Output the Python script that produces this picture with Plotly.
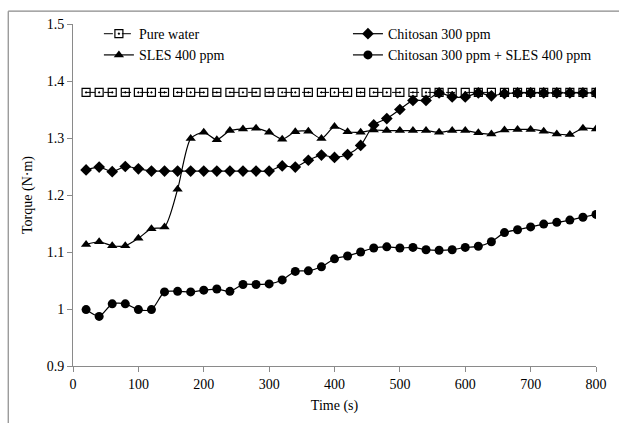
import plotly.graph_objects as go

time_s = [20, 40, 60, 80, 100, 120, 140, 160, 180, 200, 220, 240, 260, 280, 300, 320, 340, 360, 380, 400,
          420, 440, 460, 480, 500, 520, 540, 560, 580, 600, 620, 640, 660, 680, 700, 720, 740, 760, 780, 800]

pure_water = [1.38] * 40

chitosan_300 = [1.244, 1.249, 1.241, 1.250, 1.246, 1.242, 1.242, 1.242, 1.242, 1.242,
                1.242, 1.242, 1.242, 1.242, 1.242, 1.251, 1.249, 1.261, 1.270, 1.266,
                1.271, 1.287, 1.323, 1.334, 1.350, 1.366, 1.366, 1.379, 1.372, 1.372,
                1.379, 1.374, 1.378, 1.379, 1.379, 1.379, 1.379, 1.379, 1.379, 1.379]

sles_400 = [1.113, 1.118, 1.111, 1.111, 1.124, 1.141, 1.144, 1.210, 1.299, 1.310,
            1.297, 1.313, 1.316, 1.317, 1.310, 1.298, 1.311, 1.312, 1.299, 1.320,
            1.311, 1.310, 1.314, 1.313, 1.313, 1.313, 1.313, 1.310, 1.313, 1.313,
            1.309, 1.307, 1.314, 1.315, 1.315, 1.312, 1.307, 1.306, 1.317, 1.316]

chitosan_sles = [0.999, 0.987, 1.009, 1.009, 0.999, 0.999, 1.030, 1.031, 1.030, 1.033,
                 1.035, 1.031, 1.043, 1.043, 1.044, 1.051, 1.066, 1.067, 1.074, 1.088,
                 1.093, 1.100, 1.107, 1.109, 1.107, 1.108, 1.104, 1.103, 1.104, 1.108,
                 1.110, 1.118, 1.134, 1.139, 1.144, 1.149, 1.152, 1.156, 1.161, 1.166]

x_ticks = [0, 100, 200, 300, 400, 500, 600, 700, 800]
y_ticks = [0.9, 1.0, 1.1, 1.2, 1.3, 1.4, 1.5]
y_tick_labels = ["0.9", "1", "1.1", "1.2", "1.3", "1.4", "1.5"]

FONT = "Liberation Serif, Times New Roman, serif"
GRAY = "#8a8a8a"

fig = go.Figure()
line_shape = dict(shape="spline", smoothing=0.7)

fig.add_trace(go.Scatter(
    x=time_s, y=pure_water, name="Pure water", mode="lines+markers", legend="legend",
    line=dict(color="black", width=1, dash="dash"),
    marker=dict(symbol="square-open-dot", size=8, color="black", line=dict(width=1.2))))
fig.add_trace(go.Scatter(
    x=time_s, y=chitosan_300, name="Chitosan 300 ppm", mode="lines+markers", legend="legend2",
    line=dict(color="black", width=1.2, **line_shape),
    marker=dict(symbol="diamond", size=9, color="black")))
fig.add_trace(go.Scatter(
    x=time_s, y=sles_400, name="SLES 400 ppm", mode="lines+markers", legend="legend",
    line=dict(color="black", width=1.2, **line_shape),
    marker=dict(symbol="triangle-up", size=9, color="black")))
fig.add_trace(go.Scatter(
    x=time_s, y=chitosan_sles, name="Chitosan 300 ppm + SLES 400 ppm", mode="lines+markers",
    legend="legend2",
    line=dict(color="black", width=1.2, **line_shape),
    marker=dict(symbol="circle", size=9, color="black")))

L, R, T, B = 73, 21, 24, 51
W, H = 619, 423
pw, ph = W - L - R, H - T - B

def px_x(p):
    return (p - L) / pw

def px_y(p):
    return (H - B - p) / ph

legend_common = dict(orientation="v", xanchor="left", yanchor="top", bgcolor="rgba(0,0,0,0)",
                     font=dict(family=FONT, size=14), itemwidth=30, tracegroupgap=0)

fig.update_layout(
    width=W, height=H,
    margin=dict(l=L, r=R, t=T, b=B),
    paper_bgcolor="white", plot_bgcolor="white",
    font=dict(family=FONT, size=14, color="black"),
    showlegend=True,
    legend=dict(x=px_x(99), y=px_y(18), **legend_common),
    legend2=dict(x=px_x(349), y=px_y(18), **legend_common),
    xaxis=dict(range=[0, 800], tickvals=x_ticks, showgrid=False, zeroline=False,
               showline=True, linecolor=GRAY, linewidth=1, ticks="outside", ticklen=5,
               tickcolor=GRAY, title=dict(text="Time (s)", standoff=9, font=dict(size=14)),
               tickfont=dict(size=14)),
    yaxis=dict(range=[0.9, 1.5], tickvals=y_ticks, ticktext=y_tick_labels, showgrid=False,
               zeroline=False, showline=True, linecolor=GRAY, linewidth=1, ticks="outside",
               ticklen=5, tickcolor=GRAY,
               title=dict(text="Torque (N·m)", standoff=10, font=dict(size=14)),
               tickfont=dict(size=14)),
    shapes=[
        dict(type="line", xref="paper", yref="paper", x0=px_x(8), x1=px_x(640),
             y0=px_y(11), y1=px_y(11), line=dict(color=GRAY, width=1.2)),
        dict(type="line", xref="paper", yref="paper", x0=px_x(8), x1=px_x(8),
             y0=px_y(11), y1=px_y(440), line=dict(color=GRAY, width=1.2)),
    ],
)

fig.write_html("out.html", config={"displayModeBar": False},
               post_script="document.body.style.margin='0';document.body.style.padding='0';")
